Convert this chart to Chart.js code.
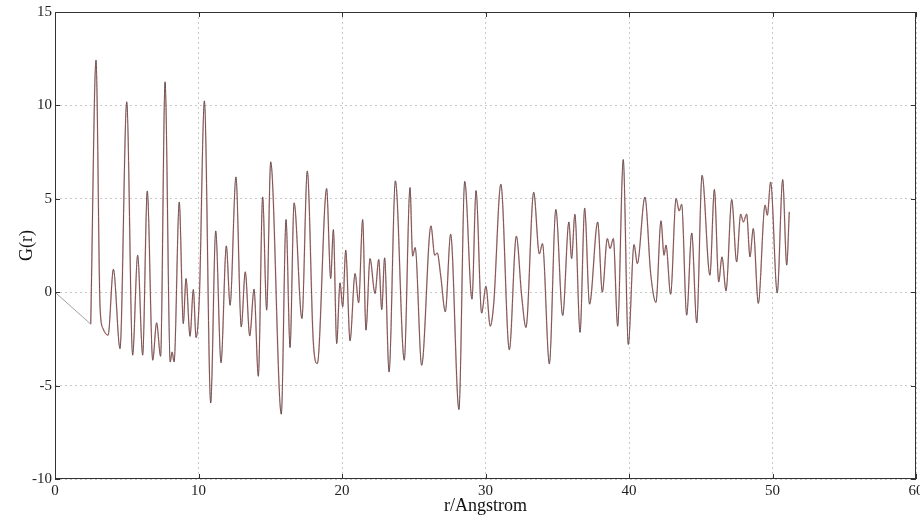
<!DOCTYPE html>
<html>
<head>
<meta charset="utf-8">
<script src="https://cdn.jsdelivr.net/npm/chart.js@4.4.1/dist/chart.umd.min.js"></script>
<style>
html,body{margin:0;padding:0;background:#fff;}
#wrap{width:920px;height:517px;position:relative;}
</style>
</head>
<body>
<div id="wrap"><canvas id="c" width="920" height="517"></canvas></div>
<script>
// r (Angstrom) and G(r) (peaks, troughs, shoulders)
const rValues = [2.49,2.86,3.14,3.35,3.70,4.07,4.53,5.00,5.41,5.76,6.11,6.43,6.81,7.08,7.36,7.67,8.03,8.16,8.30,8.66,8.94,9.13,9.41,9.64,9.83,10.06,10.41,10.85,11.20,11.57,11.94,12.20,12.61,12.98,13.26,13.57,13.87,14.17,14.47,14.75,15.03,15.77,16.10,16.38,16.66,17.21,17.58,18.00,18.28,18.93,19.21,19.40,19.63,19.86,20.05,20.26,20.56,20.91,21.16,21.44,21.67,21.95,22.30,22.56,22.77,22.97,23.28,23.72,24.34,24.74,24.92,25.10,25.55,26.20,26.46,26.64,26.88,27.20,27.57,28.15,28.55,29.06,29.34,29.73,30.03,30.33,30.57,31.07,31.66,32.15,32.52,32.82,33.36,33.75,33.97,34.45,34.90,35.38,35.81,36.00,36.23,36.59,36.91,37.25,37.82,38.14,38.49,38.68,38.91,39.21,39.60,39.95,40.35,40.58,41.11,41.51,41.88,42.23,42.44,42.58,42.90,43.28,43.50,43.67,44.02,44.37,44.72,45.09,45.64,45.95,46.25,46.48,46.76,47.16,47.50,47.78,47.97,48.20,48.43,48.66,49.01,49.48,49.64,49.87,50.33,50.71,50.99,51.17];
const gValues = [-1.71,12.42,-0.80,-1.95,-2.30,1.23,-3.02,10.19,-3.37,1.98,-3.37,5.42,-3.64,-1.64,-3.43,11.26,-3.73,-3.20,-3.73,4.83,-1.68,0.73,-2.36,0.14,-2.43,-0.25,10.24,-5.93,3.28,-3.78,2.48,-0.70,6.17,-1.86,1.09,-2.34,0.16,-4.50,5.10,-0.96,6.98,-6.53,3.89,-2.96,4.78,-1.41,6.49,-2.66,-3.82,5.55,0.73,3.35,-2.75,0.50,-0.78,2.25,-2.60,1.00,-0.57,3.89,-2.03,1.80,-0.07,1.75,-0.93,1.84,-4.27,5.96,-3.64,5.60,1.93,2.39,-3.91,3.55,1.98,2.10,0.87,-1.05,3.10,-6.28,5.93,-0.37,5.44,-1.12,0.32,-1.82,-0.64,5.78,-3.08,3.00,-0.20,-1.89,5.35,2.05,2.60,-3.84,4.43,-1.25,3.76,1.80,4.17,-2.15,4.50,-0.64,3.76,0.00,2.87,2.34,2.87,-1.82,7.10,-2.80,2.55,1.53,5.09,1.01,-0.55,3.82,1.98,2.52,-0.11,5.01,4.35,4.71,-1.23,3.17,-1.64,6.26,0.91,5.50,0.55,1.89,0.07,4.96,1.62,4.18,3.76,4.18,1.89,3.41,-0.60,4.66,4.12,5.90,-0.04,6.03,1.45,4.30];
// low-r baseline segment
const baseR = [0, 2.49];
const baseG = [0, -1.71];
const xTicks = [0,10,20,30,40,50,60];
const yTicks = [-10,-5,0,5,10,15];

const toPts = (xs, ys) => xs.map((x, i) => ({x: x, y: ys[i]}));
const serif = '"Liberation Serif", "Times New Roman", serif';

const framePlugin = {
  id: 'frame',
  afterDraw(chart) {
    const {ctx, chartArea: a, scales: {x, y}} = chart;
    ctx.save();
    ctx.strokeStyle = '#333';
    ctx.lineWidth = 1;
    ctx.strokeRect(Math.round(a.left) + 0.5, Math.round(a.top) + 0.5, Math.round(a.right - a.left) - 1, Math.round(a.bottom - a.top) - 1);
    ctx.beginPath();
    xTicks.forEach(v => {
      const p = Math.round(x.getPixelForValue(v)) + 0.5;
      ctx.moveTo(p, a.bottom); ctx.lineTo(p, a.bottom - 5);
      ctx.moveTo(p, a.top); ctx.lineTo(p, a.top + 5);
    });
    yTicks.forEach(v => {
      const p = Math.round(y.getPixelForValue(v)) + 0.5;
      ctx.moveTo(a.left, p); ctx.lineTo(a.left + 5, p);
      ctx.moveTo(a.right, p); ctx.lineTo(a.right - 5, p);
    });
    ctx.stroke();
    ctx.restore();
  }
};

new Chart(document.getElementById('c'), {
  type: 'line',
  data: {
    datasets: [
      {label: 'baseline', data: toPts(baseR, baseG), borderColor: '#a0a0a0', borderWidth: 1, pointRadius: 0, tension: 0},
      {label: 'G obs', data: toPts(rValues, gValues), borderColor: 'rgba(205,90,90,0.35)', borderWidth: 1.6, pointRadius: 0, cubicInterpolationMode: 'monotone'},
      {label: 'G calc', data: toPts(rValues, gValues), borderColor: '#3a3a3a', borderWidth: 0.9, pointRadius: 0, cubicInterpolationMode: 'monotone'}
    ]
  },
  options: {
    responsive: false,
    animation: false,
    devicePixelRatio: 1,
    layout: {padding: {top: 12, right: 4, left: 0, bottom: 0}},
    plugins: {legend: {display: false}, tooltip: {enabled: false}},
    scales: {
      x: {
        type: 'linear', min: 0, max: 60,
        afterBuildTicks: s => { s.ticks = xTicks.map(v => ({value: v})); },
        afterFit: s => { s.height = 38; s.paddingLeft = 0; s.paddingRight = 0; },
        grid: {color: '#c8c8c8', drawTicks: false, lineWidth: 1},
        border: {display: false, dash: [2, 3]},
        ticks: {color: '#222', font: {family: serif, size: 15}, padding: 3, maxRotation: 0},
        title: {display: true, text: 'r/Angstrom', color: '#111', font: {family: serif, size: 18, lineHeight: 1.2}, padding: {top: 0, bottom: 0}}
      },
      y: {
        type: 'linear', min: -10, max: 15,
        afterBuildTicks: s => { s.ticks = yTicks.map(v => ({value: v})); },
        afterFit: s => { s.width = 55; s.paddingTop = 0; s.paddingBottom = 0; },
        grid: {color: '#c8c8c8', drawTicks: false, lineWidth: 1},
        border: {display: false, dash: [2, 3]},
        ticks: {color: '#222', font: {family: serif, size: 15}, padding: 3},
        title: {display: true, text: 'G(r)', color: '#111', font: {family: serif, size: 18, lineHeight: 1.2}, padding: {top: 16, bottom: 0}}
      }
    }
  },
  plugins: [framePlugin]
});
</script>
</body>
</html>
